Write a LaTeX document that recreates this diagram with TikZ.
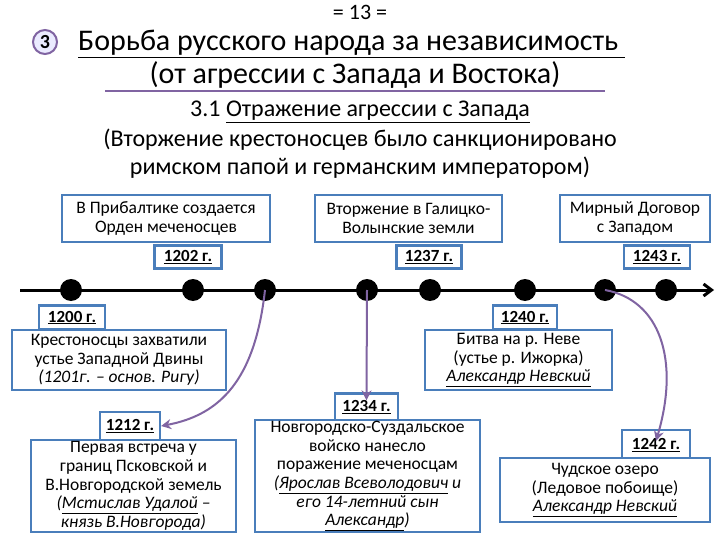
\documentclass[tikz,border=0pt]{standalone}
\usepackage{fontspec}
\setmainfont{Carlito}
\usetikzlibrary{arrows.meta}
\definecolor{bb}{HTML}{4A7EBB}
\definecolor{pp}{HTML}{8064A2}
\begin{document}
\begin{tikzpicture}[x=1pt,y=-1pt,
 box/.style={draw=bb,line width=2.2pt,fill=white,align=center,font=\fontsize{17.5}{18.6}\selectfont,inner sep=1pt},
 datebox/.style={draw=bb,line width=2.2pt,fill=white,inner sep=1pt,font=\bfseries\fontsize{17}{18}\selectfont},
 dot/.style={circle,fill=black,minimum size=22pt,inner sep=0pt},
 parr/.style={draw=pp,line width=2pt,-{Stealth[length=10pt,width=10pt]}}]
\useasboundingbox (0,0) rectangle (720,540);
\fill[white] (0,0) rectangle (720,540);
\node (pg) at (360,12) {\fontsize{22}{24}\selectfont = 13 =};
\node[circle,draw=pp,line width=2pt,fill=blue!8,minimum size=24pt,inner sep=0pt,font=\bfseries\fontsize{20}{22}\selectfont] (c3) at (45,42) {3};
\node[anchor=west,inner sep=0pt] (t1) at (78,44) {\fontsize{30}{34}\selectfont\underline{Борьба русского народа за независимость\ }};
\node (t2) at (355,75) {\fontsize{30}{34}\selectfont (от агрессии с Запада и Востока)};
\draw[pp,line width=2.5pt] (105,91) -- (605,91);
\node (s1) at (360,112) {\fontsize{24}{26}\selectfont 3.1 \underline{Отражение агрессии с Запада}};
\node (s2) at (360,140) {\fontsize{24}{26}\selectfont (Вторжение крестоносцев было санкционировано};
\node (s3) at (360,168) {\fontsize{24}{26}\selectfont римском папой и германским императором)};
% timeline
\coordinate (ts) at (20,290); \coordinate (te) at (714,290);
\draw[line width=3pt,-{Straight Barb[length=8pt,width=12pt]}] (ts) -- (te);
\foreach \n/\x in {d1/71,d2/193,d3/265,d4/367,d5/430,d6/525,d7/605,d8/666}
  \node[dot] (\n) at (\x,290) {};
% top boxes
\node[datebox,minimum width=67pt,minimum height=23pt] (y1202) at (188,257) {\underline{1202 г.}};
\node[box,minimum width=208pt,minimum height=47pt] (b1) at (166,218.5) {В Прибалтике создается\\Орден меченосцев};
\node[datebox,minimum width=65pt,minimum height=23pt] (y1237) at (429,257) {\underline{1237 г.}};
\node[box,minimum width=187pt,minimum height=47pt] (b2) at (408.5,218.5) {Вторжение в Галицко-\\Волынские земли};
\node[datebox,minimum width=66pt,minimum height=23pt] (y1243) at (657,257) {\underline{1243 г.}};
\node[box,minimum width=150pt,minimum height=47pt] (b3) at (635,218.5) {Мирный Договор\\с Западом};
% middle
\node[datebox,minimum width=66pt,minimum height=24pt] (y1200) at (72,317.5) {\underline{1200 г.}};
\node[box,minimum width=214pt,minimum height=60pt] (b4) at (119,360) {Крестоносцы захватили\\устье Западной Двины\\\textit{(1201г. – основ. Ригу)}};
\node[datebox,minimum width=64pt,minimum height=24pt] (y1240) at (525,317.5) {\underline{1240 г.}};
\node[box,minimum width=187pt,minimum height=60pt] (b5) at (518.5,360) {Битва на р. Неве\\(устье р. Ижорка)\\\textit{\underline{Александр Невский}}};
% bottom
\node[datebox,minimum width=63pt,minimum height=27pt] (y1234) at (366.5,407) {\underline{1234 г.}};
\node[box,minimum width=225pt,minimum height=112pt] (b6) at (367.5,476) {Новгородско-Суздальское\\войско нанесло\\поражение меченосцам\\\textit{(\underline{Ярослав Всеволодович} и}\\\textit{его 14-летний сын}\\\textit{\underline{Александр})}};
\node[datebox,minimum width=60pt,minimum height=28pt] (y1212) at (130,426) {\underline{1212 г.}};
\node[box,minimum width=205pt,minimum height=92pt] (b7) at (133.5,486) {Первая встреча у\\границ Псковской и\\В.Новгородской земель\\\textit{(\underline{Мстислав Удалой} –}\\\textit{князь В.Новгорода)}};
\node[datebox,minimum width=68pt,minimum height=30pt] (y1242) at (656,445) {\underline{1242 г.}};
\node[box,minimum width=210pt,minimum height=64pt] (b8) at (605,490) {Чудское озеро\\(Ледовое побоище)\\\textit{\underline{Александр Невский}}};
% arrows
\draw[parr] (d3.center) .. controls (255,380) and (220,415) .. (y1212.east);
\draw[parr] (d4.center) -- ([yshift=-8pt]y1234.north);
\draw[parr] (d7.center) .. controls (660,300) and (680,360) .. ([yshift=-12pt]y1242.north);
\end{tikzpicture}
\end{document}
